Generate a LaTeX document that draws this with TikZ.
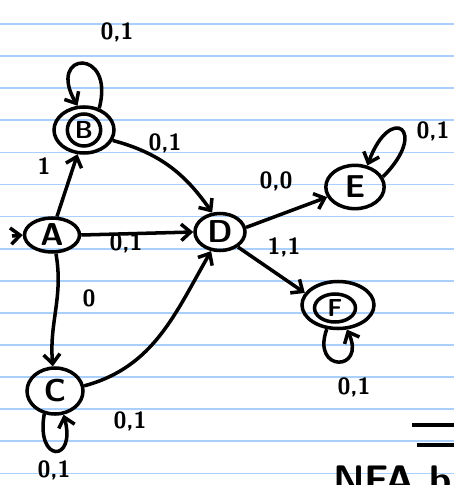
\documentclass[tikz,border=0pt]{standalone}
\usetikzlibrary{shapes.geometric,arrows.meta}
\definecolor{paperblue}{RGB}{168,208,250}
\tikzset{
  state/.style={draw, ellipse, line width=3pt, inner sep=0pt, font=\fontsize{27}{29}\sffamily\bfseries},
  edge/.style={-{Straight Barb[length=8pt,width=14pt]}, line width=3pt},
  lbl/.style={font=\fontsize{20}{22}\sffamily\bfseries},
  ruled/.style={draw=paperblue, line width=1.4pt}
}
\begin{document}
\begin{tikzpicture}[x=0.03cm,y=0.03cm]
	 \useasboundingbox (0,-485) rectangle (454,0);
	 \clip (0,-485) rectangle (454,0);
	 \fill[white] (0,-485) rectangle (454,0);
	 \foreach \k in {0,...,14}
	 	\draw[ruled] (0,-24-32.1*\k) -- (454,-24-32.1*\k);

	 % states
	 \node[state, minimum width=1.65cm, minimum height=1.02cm] (A) at (52,-235) {A};
	 \node[state, minimum width=1.8cm, minimum height=1.38cm] (B) at (84,-130) {};
	 \node[state, minimum width=1.0cm, minimum height=0.96cm, font=\fontsize{21}{23}\sffamily\bfseries] (Bin) at (84,-130) {B};
	 \node[state, minimum width=1.68cm, minimum height=1.38cm] (C) at (55,-391) {C};
	 \node[state, minimum width=1.5cm, minimum height=1.11cm] (D) at (220,-232) {D};
	 \node[state, minimum width=1.75cm, minimum height=1.3cm] (E) at (355,-187) {E};
	 \node[state, minimum width=2.16cm, minimum height=1.41cm] (F) at (338,-305) {};
	 \node[state, minimum width=1.23cm, minimum height=0.84cm, font=\fontsize{21}{23}\sffamily\bfseries] (Fin) at (335,-308) {F};
	 \coordinate (start) at (12,-236);

	 % transitions
	 \draw[edge] (start) -- (A.west);
	 \draw[edge] (A.75) -- (B.255);
	 \draw[edge] (A.east) -- (D.west);
	 \draw[edge] (A.282) to[out=-80, in=95] (C.95);
	 \draw[edge] (B.-20) to[out=-15, in=125] (D.112);
	 \draw[edge] (C.10) to[out=15, in=-120] (D.-115);
	 \draw[edge] (D.10) -- (E.200);
	 \draw[edge] (D.-40) -- (F.160);

	 % loops
	 \draw[edge] (B.55) to[out=75, in=120, distance=1.9cm] (B.105);
	 \draw[edge] (E.20) to[out=45, in=70, distance=2cm] (E.60);
	 \draw[edge] (F.245) to[out=-110, in=-65, distance=1.4cm] (F.290);
	 \draw[edge] (C.245) to[out=-100, in=-75, distance=1.5cm] (C.290);

	 % labels
	 \node[lbl] (lBB) at (117,-32) {0,1};
	 \node[lbl] (lAB) at (44,-166) {1};
	 \node[lbl] (lBD) at (165,-143) {0,1};
	 \node[lbl] (lAD) at (126,-243) {0,1};
	 \node[lbl] (lAC) at (89,-298) {0};
	 \node[lbl] (lCD) at (130,-421) {0,1};
	 \node[lbl] (lCC) at (54,-470) {0,1};
	 \node[lbl] (lDE) at (276,-181) {0,0};
	 \node[lbl] (lDF) at (284,-247) {1,1};
	 \node[lbl] (lEE) at (433,-131) {0,1};
	 \node[lbl] (lFF) at (354,-387) {0,1};

	 % corner
	 \draw[line width=3pt] (412,-425) -- (454,-425);
	 \draw[line width=3pt] (417,-445) -- (454,-445);
	 \node[font=\fontsize{34}{36}\sffamily\bfseries, anchor=north west, inner sep=0pt] (title) at (333,-466) {NFA b};
\end{tikzpicture}
\end{document}
